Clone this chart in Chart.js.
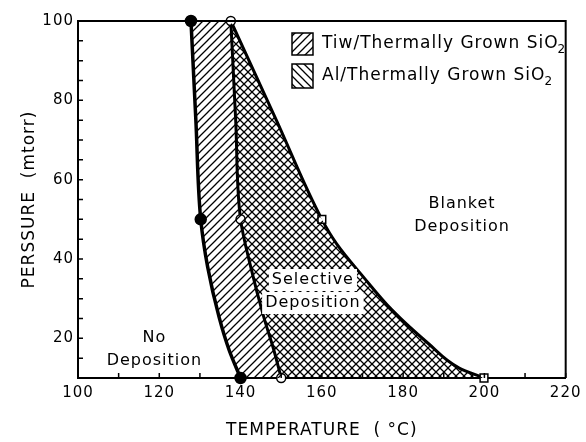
<!DOCTYPE html>
<html>
<head>
<meta charset="utf-8">
<script src="https://cdn.jsdelivr.net/npm/chart.js@4.4.1/dist/chart.umd.min.js"></script>
<style>
  html, body { margin: 0; padding: 0; background: #fff; }
</style>
</head>
<body>
<canvas id="depositionChart" width="586" height="442"></canvas>
<script>
// boundaries: pressure (mtorr) and temperature (C)
const leftP = [10, 17, 25.4, 38, 50, 75, 100];
const leftT = [140, 137.2, 134.7, 131.9, 130.2, 129.0, 127.8];
const midP = [10, 17, 25.4, 38, 50, 75, 100];
const midT = [150, 148.2, 145.7, 142.5, 140, 138.8, 137.6];
const rightP = [10, 12.5, 18.7, 27.1, 35.5, 43.9, 50, 75, 100];
const rightT = [199.9, 193.8, 186.2, 177.3, 170.2, 163.6, 160, 148.8, 137.6];
const markedP = [10, 50, 100]; // measured points (with markers)

const xLabels = [100, 120, 140, 160, 180, 200, 220];
const yLabels = [20, 40, 60, 80, 100];
const legendLabels = ['Tiw/Thermally Grown SiO', 'Al/Thermally Grown SiO'];

// region labels, in data coordinates
const regionLabels = [
  { x: 194.5, y: 54, lines: ['Blanket', 'Deposition'], boxed: false },
  { x: 157.8, y: 34.7, lines: ['Selective', 'Deposition'], boxed: true },
  { x: 118.8, y: 20.1, lines: ['No', 'Deposition'], boxed: false }
];

const FONT = "'DejaVu Sans', sans-serif";

function hatch(dir) {
  const s = 8;
  const c = document.createElement('canvas');
  c.width = s; c.height = s;
  const g = c.getContext('2d');
  g.strokeStyle = '#000';
  g.lineWidth = 1.3;
  g.beginPath();
  if (dir > 0) {
    g.moveTo(-1, s + 1); g.lineTo(s + 1, -1);
    g.moveTo(-1, 1); g.lineTo(1, -1);
    g.moveTo(s - 1, s + 1); g.lineTo(s + 1, s - 1);
  } else {
    g.moveTo(-1, -1); g.lineTo(s + 1, s + 1);
    g.moveTo(s - 1, -1); g.lineTo(s + 1, 1);
    g.moveTo(-1, s - 1); g.lineTo(1, s + 1);
  }
  g.stroke();
  return g.createPattern(c, 'repeat');
}

const slash = hatch(1);
const backslash = hatch(-1);

function pts(T, P) {
  return P.map((p, i) => ({ x: T[i], y: p }));
}
function radii(P, r, skip) {
  return P.map(p => (markedP.includes(p) && p !== skip) ? r : 0);
}

const framePlugin = {
  id: 'frame',
  beforeDraw(chart) {
    chart.ctx.letterSpacing = '1px';
  },
  afterDatasetsDraw(chart) {
    const { ctx, chartArea: a, scales: { x, y } } = chart;
    ctx.save();
    ctx.strokeStyle = '#000';
    ctx.lineWidth = 2;
    ctx.beginPath();
    ctx.moveTo(a.left, a.top);
    ctx.lineTo(a.right, a.top);
    ctx.lineTo(a.right, a.bottom);
    ctx.stroke();
    // inward tick marks
    ctx.lineWidth = 1.5;
    ctx.beginPath();
    y.ticks.forEach(t => {
      const py = y.getPixelForValue(t.value);
      ctx.moveTo(a.left, py); ctx.lineTo(a.left + 5, py);
    });
    x.ticks.forEach(t => {
      const px = x.getPixelForValue(t.value);
      ctx.moveTo(px, a.bottom); ctx.lineTo(px, a.bottom - 5);
    });
    ctx.stroke();
    ctx.restore();
  },
  afterDraw(chart) {
    const { ctx, scales: { x, y } } = chart;
    ctx.save();
    ctx.fillStyle = '#000';
    ctx.textBaseline = 'middle';

    // region labels
    ctx.font = '16px ' + FONT;
    ctx.textAlign = 'center';
    regionLabels.forEach(r => {
      const cx = x.getPixelForValue(r.x);
      const cy = y.getPixelForValue(r.y);
      r.lines.forEach((txt, i) => {
        const ly = cy + i * 23;
        if (r.boxed) {
          const w = ctx.measureText(txt).width + 6;
          ctx.fillStyle = '#fff';
          ctx.fillRect(cx - w / 2, ly - 11, w, 22);
          ctx.fillStyle = '#000';
        }
        ctx.fillText(txt, cx, ly);
      });
    });

    // legend
    const bx = 292, bw = 21;
    const rows = [{ y: 33, h: 22, fill: slash }, { y: 64, h: 24, fill: backslash }];
    ctx.textAlign = 'left';
    rows.forEach((row, i) => {
      ctx.fillStyle = row.fill;
      ctx.fillRect(bx, row.y, bw, row.h);
      ctx.strokeStyle = '#000';
      ctx.lineWidth = 1.5;
      ctx.strokeRect(bx, row.y, bw, row.h);
      ctx.fillStyle = '#000';
      ctx.font = '17px ' + FONT;
      const ty = row.y + row.h / 2;
      ctx.fillText(legendLabels[i], 322, ty);
      const w = ctx.measureText(legendLabels[i]).width;
      ctx.font = '12px ' + FONT;
      ctx.fillText('2', 322 + w - 1, ty + 6);
    });
    ctx.restore();
  }
};

new Chart(document.getElementById('depositionChart'), {
  type: 'line',
  data: {
    datasets: [
      {
        label: legendLabels[0],
        data: pts(leftT, leftP),
        borderColor: '#000',
        borderWidth: 3.5,
        backgroundColor: slash,
        fill: 2,
        pointRadius: radii(leftP, 4.5),
        pointBackgroundColor: '#000',
        pointBorderColor: '#000',
        cubicInterpolationMode: 'monotone',
        clip: 8
      },
      {
        label: legendLabels[1],
        data: pts(midT, midP),
        borderColor: '#000',
        borderWidth: 3,
        backgroundColor: backslash,
        fill: 2,
        pointRadius: radii(midP, 4.5),
        pointBackgroundColor: '#fff',
        pointBorderColor: '#000',
        pointBorderWidth: 1.5,
        cubicInterpolationMode: 'monotone',
        clip: 8
      },
      {
        label: 'boundary',
        data: pts(rightT, rightP),
        borderColor: '#000',
        borderWidth: 3,
        fill: false,
        pointRadius: radii(rightP, 5.5, 100),
        pointStyle: 'rect',
        pointBackgroundColor: '#fff',
        pointBorderColor: '#000',
        pointBorderWidth: 1.5,
        cubicInterpolationMode: 'monotone',
        clip: 8
      }
    ]
  },
  options: {
    indexAxis: 'y',
    responsive: false,
    animation: false,
    devicePixelRatio: 1,
    layout: { padding: { top: 21, right: 18, left: 0, bottom: 0 } },
    plugins: {
      legend: { display: false },
      tooltip: { enabled: false }
    },
    scales: {
      x: {
        type: 'linear',
        min: 100,
        max: 220,
        afterFit(s) { s.height = 64; },
        grid: { drawOnChartArea: false, drawTicks: false },
        border: { display: true, color: '#000', width: 2 },
        ticks: {
          stepSize: 10,
          autoSkip: false,
          maxRotation: 0,
          padding: 6,
          color: '#000',
          font: { family: FONT, size: 15 },
          callback: v => xLabels.includes(v) ? String(v) : ''
        },
        title: {
          display: true,
          text: 'TEMPERATURE  ( °C)',
          color: '#000',
          font: { family: FONT, size: 17 },
          padding: { top: 0, bottom: 1 }
        }
      },
      y: {
        type: 'linear',
        min: 10,
        max: 100,
        afterFit(s) { s.width = 78; },
        grid: { drawOnChartArea: false, drawTicks: false },
        border: { display: true, color: '#000', width: 2 },
        ticks: {
          stepSize: 5,
          autoSkip: false,
          padding: 4,
          color: '#000',
          font: { family: FONT, size: 15 },
          callback: v => yLabels.includes(v) ? String(v) : ''
        },
        title: {
          display: true,
          text: 'PERSSURE  (mtorr)',
          color: '#000',
          font: { family: FONT, size: 17 },
          padding: { top: 19, bottom: 0 }
        }
      }
    }
  },
  plugins: [framePlugin]
});
</script>
</body>
</html>
